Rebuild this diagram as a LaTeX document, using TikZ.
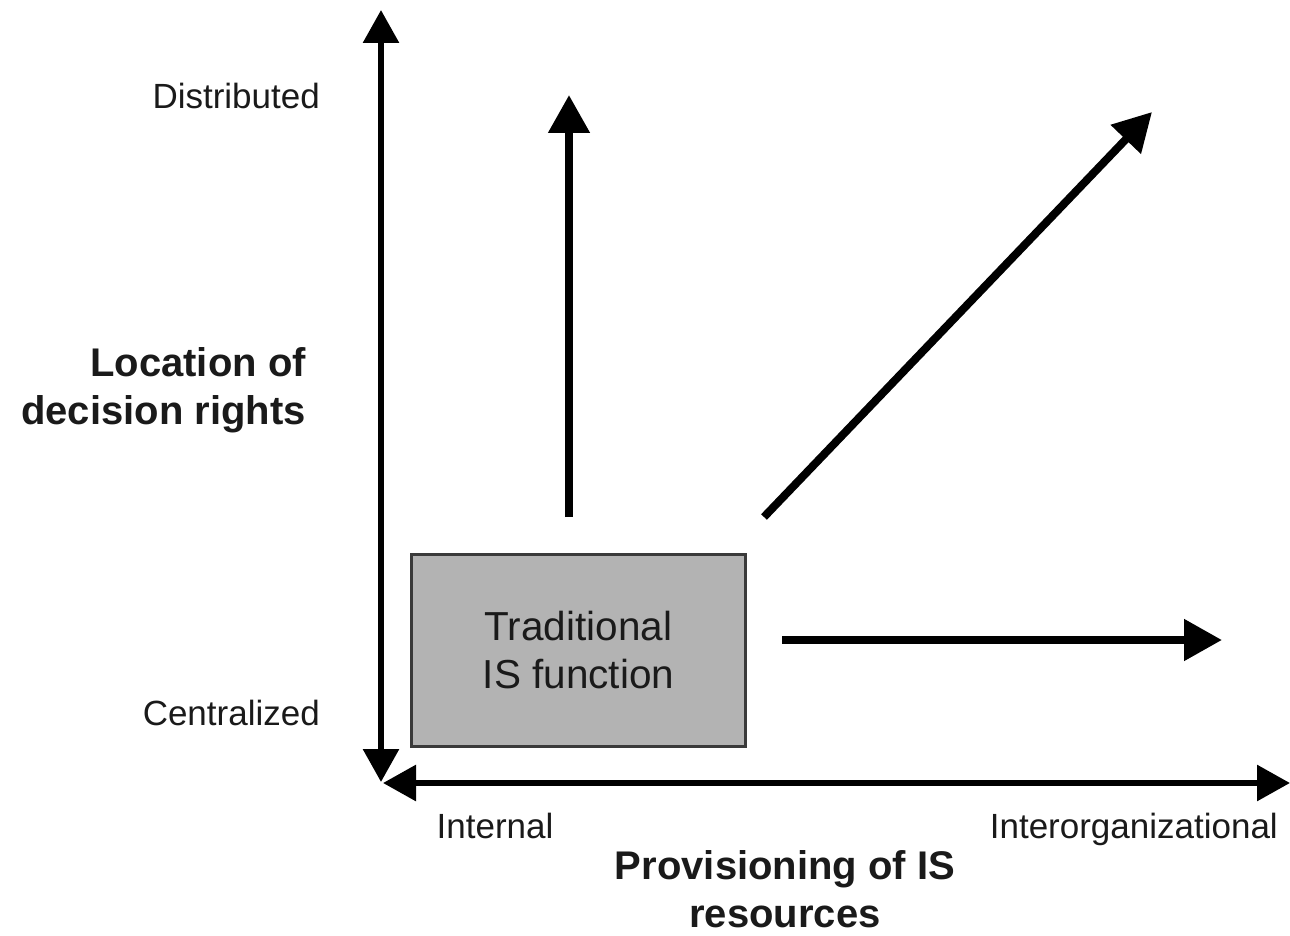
\documentclass[tikz,border=0pt]{standalone}
\usepackage{fontspec}
\setmainfont{Liberation Sans}
\usetikzlibrary{arrows.meta}
\definecolor{txt}{HTML}{1A1A1A}
\definecolor{boxfill}{HTML}{B3B3B3}
\definecolor{boxline}{HTML}{3A3A3A}
\begin{document}
\begin{tikzpicture}[x=1pt,y=-1pt,
  axis/.style={line width=6pt, {Triangle[length=33pt,width=35pt]}-{Triangle[length=33pt,width=35pt]}},
  move/.style={line width=8pt, -{Triangle[length=38pt,width=40pt]}},
  lbl/.style={font=\fontsize{35}{42}\selectfont, text=txt, inner sep=0pt},
  ttl/.style={font=\bfseries\fontsize{40}{48}\selectfont, text=txt, inner sep=0pt},
  isbox/.style={draw=boxline, fill=boxfill, line width=3pt, minimum width=334pt, minimum height=192pt,
    align=center, text=txt, font=\fontsize{40.5}{48}\selectfont, inner sep=0pt},
]
\useasboundingbox (0,0) rectangle (1290,936);
% axes
\coordinate (vtop) at (381,10);
\coordinate (vbot) at (381,782);
\coordinate (hleft) at (383,783);
\coordinate (hright) at (1290,783);
\draw[axis] (vbot) -- (vtop);
\draw[axis] (hleft) -- (hright);
% box
\node[isbox] (tis) at (578.5,650) {Traditional\\IS function};
% arrows
\coordinate (upS) at (569,517);
\coordinate (upE) at (569,95);
\coordinate (dgS) at (764,517);
\coordinate (dgE) at (1152,112);
\coordinate (rtS) at (782,640);
\coordinate (rtE) at (1222,640);
\draw[move] (upS) -- (upE);
\draw[move] (dgS) -- (dgE);
\draw[move] (rtS) -- (rtE);
% labels
\node[lbl, anchor=base east] (dist) at (320,108.5) {Distributed};
\node[lbl, anchor=base east] (cent) at (320,725.5) {Centralized};
\node[lbl, anchor=base] (intl) at (495,838) {Internal};
\node[lbl, anchor=base east] (inter) at (1278,838) {Interorganizational};
\node[ttl, anchor=east, align=right] (ylab) at (306,390) {Location of\\decision rights};
\node[ttl, align=center] (xlab) at (785,889) {Provisioning of IS\\resources};
\end{tikzpicture}
\end{document}
